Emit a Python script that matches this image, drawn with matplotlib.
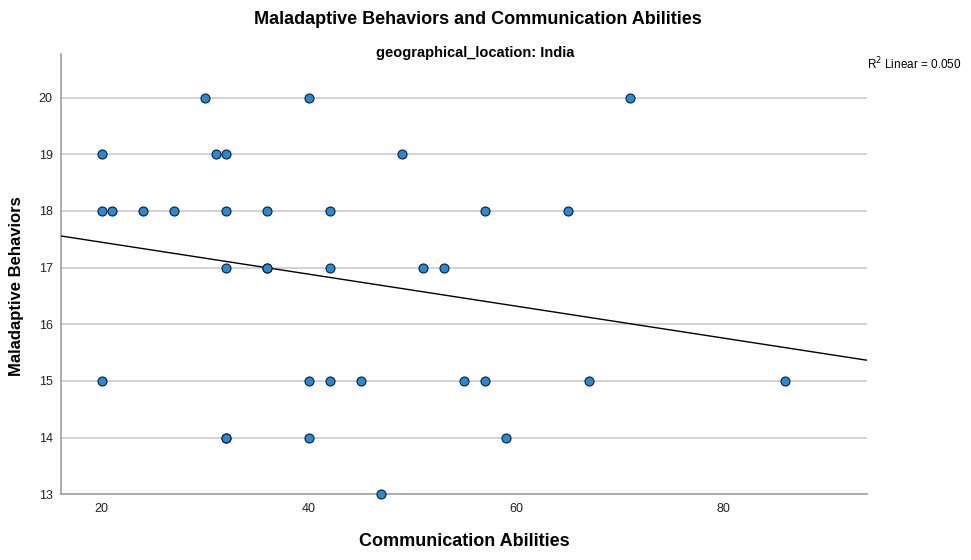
import numpy as np
import matplotlib
matplotlib.use("Agg")
import matplotlib.pyplot as plt

plt.rcParams['font.family'] = ['Liberation Sans', 'DejaVu Sans']

# Communication Abilities (x) vs Maladaptive Behaviors (y), India subgroup
comm = [30, 40, 71,
        20, 31, 32, 49,
        20, 21, 24, 27, 32, 36, 42, 57, 65,
        32, 36, 36, 42, 51, 53,
        20, 40, 42, 45, 55, 57, 67, 86,
        32, 32, 40, 59,
        47]
malad = [20, 20, 20,
         19, 19, 19, 19,
         18, 18, 18, 18, 18, 18, 18, 18, 18,
         17, 17, 17, 17, 17, 17,
         15, 15, 15, 15, 15, 15, 15, 15,
         14, 14, 14, 14,
         13]
x_ticks = [20, 40, 60, 80]
y_ticks = [13, 14, 15, 16, 17, 18, 19, 20]

x = np.array(comm, dtype=float)
y = np.array(malad, dtype=float)
slope, intercept = np.polyfit(x, y, 1)
r2 = np.corrcoef(x, y)[0, 1] ** 2

fig = plt.figure(figsize=(9.71, 5.6), dpi=100)
ax = fig.add_axes([61 / 971, 1 - 494.3 / 560, (867 - 61) / 971, (494.3 - 54) / 560])

xlim = (16.07, 93.87)
ylim = (13, 20.77)
ax.set_xlim(*xlim)
ax.set_ylim(*ylim)

for v in y_ticks[1:]:
    ax.axhline(v, color='#d0d0d0', lw=1.3, zorder=1)

# fit line across the full x range
xs = np.array(xlim)
ax.plot(xs, intercept + slope * xs, color='black', lw=1.0, zorder=3)

ax.scatter(x, y, s=42, facecolor='#1b8ee3', edgecolor='#1a1a1a', linewidths=0.8,
           zorder=4, clip_on=False)

ax.set_xticks(x_ticks)
ax.set_yticks(y_ticks)
ax.tick_params(length=0, labelsize=9, colors='#222222', pad=6)
for side in ['top', 'right']:
    ax.spines[side].set_visible(False)
for side in ['left', 'bottom']:
    ax.spines[side].set_color('#a0a0a0')
    ax.spines[side].set_linewidth(1.2)

fig.text(464 / 971, 1 - 542 / 560, 'Communication Abilities',
         ha='center', va='center', fontsize=13, fontweight='bold')
fig.text(17 / 971, 1 - 286 / 560, 'Maladaptive Behaviors', rotation=90,
         ha='center', va='center', fontsize=12, fontweight='bold')

fig.text(478 / 971, 1 - 20 / 560, 'Maladaptive Behaviors and Communication Abilities',
         ha='center', va='center', fontsize=13, fontweight='bold')
fig.text(475 / 971, 1 - 53 / 560, 'geographical_location: India',
         ha='center', va='center', fontsize=10.5, fontweight='bold')
fig.text(867 / 971, 1 - 64 / 560, r'R$^2$ Linear = %.3f' % r2,
         ha='left', va='center', fontsize=8.5)

fig.savefig('out.png', dpi=100)
